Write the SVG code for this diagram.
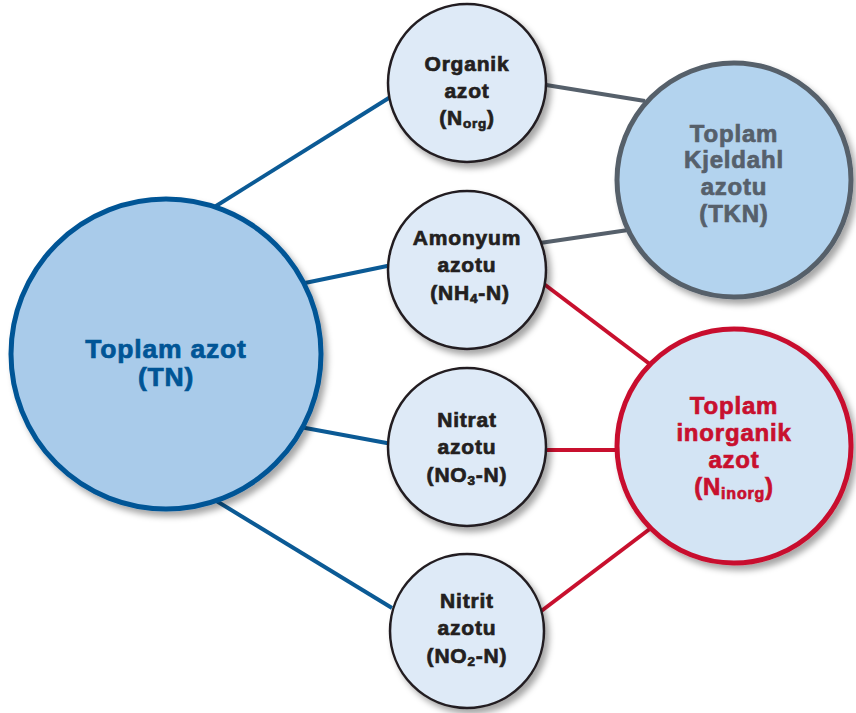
<svg xmlns="http://www.w3.org/2000/svg" width="856" height="713" viewBox="0 0 856 713">
<defs>
<filter id="sh" x="-20%" y="-20%" width="150%" height="150%">
<feDropShadow dx="4" dy="5" stdDeviation="3" flood-color="#000" flood-opacity="0.35"/>
</filter>
</defs>
<style>
text{font-family:"Liberation Sans",Arial,sans-serif;font-weight:bold;text-anchor:middle;letter-spacing:0.8px;stroke-width:0.7px}
.s{fill:#deeaf7;stroke:#231f20;stroke-width:2.5}
.st{font-size:21px;fill:#231f20;stroke:#231f20}
.sub{font-size:13.5px}
.tn{font-size:26.5px;fill:#005596;stroke:#005596}
.tk{font-size:24px;fill:#56606b;stroke:#56606b}
.ti{font-size:24px;fill:#c8102e;stroke:#c8102e}
.blue{stroke:#0b5a95;stroke-width:4;fill:none}
.gray{stroke:#56606b;stroke-width:4;fill:none}
.red{stroke:#c8102e;stroke-width:4;fill:none}
</style>
<rect width="856" height="713" fill="#fff"/>
<g id="connectors">
<line class="blue" x1="200" y1="216" x2="392" y2="96"/>
<line class="blue" x1="300" y1="284" x2="392" y2="265"/>
<line class="blue" x1="300" y1="427" x2="392" y2="444"/>
<line class="blue" x1="205" y1="494" x2="392" y2="608"/>
<line class="gray" x1="540" y1="84" x2="645" y2="101"/>
<line class="gray" x1="540" y1="243" x2="635" y2="229"/>
<line class="red" x1="540" y1="281" x2="655" y2="368"/>
<line class="red" x1="540" y1="450" x2="620" y2="450"/>
<line class="red" x1="540" y1="612" x2="655" y2="525"/>
</g>
<g id="tn">
<circle cx="166" cy="354" r="155" fill="#a9cbea" stroke="#005596" stroke-width="5" filter="url(#sh)"/>
<text class="tn" x="166" y="358">Toplam azot</text>
<text class="tn" x="166" y="386">(TN)</text>
</g>
<g id="norg">
<circle class="s" cx="467" cy="83" r="79" filter="url(#sh)"/>
<text class="st" x="467" y="71">Organik</text>
<text class="st" x="467" y="98">azot</text>
<text class="st" x="467" y="125">(N<tspan class="sub" dy="3">org</tspan><tspan dy="-3">)</tspan></text>
</g>
<g id="nh4">
<circle class="s" cx="467" cy="270" r="79" filter="url(#sh)"/>
<text class="st" x="467" y="245">Amonyum</text>
<text class="st" x="467" y="272">azotu</text>
<text class="st" x="470" y="300">(NH<tspan class="sub" dy="3">4</tspan><tspan dy="-3">-N)</tspan></text>
</g>
<g id="no3">
<circle class="s" cx="467" cy="447" r="79" filter="url(#sh)"/>
<text class="st" x="467" y="427">Nitrat</text>
<text class="st" x="467" y="454">azotu</text>
<text class="st" x="467" y="482">(NO<tspan class="sub" dy="3">3</tspan><tspan dy="-3">-N)</tspan></text>
</g>
<g id="no2">
<circle class="s" cx="467" cy="631" r="77" filter="url(#sh)"/>
<text class="st" x="467" y="608">Nitrit</text>
<text class="st" x="467" y="635">azotu</text>
<text class="st" x="467" y="663">(NO<tspan class="sub" dy="3">2</tspan><tspan dy="-3">-N)</tspan></text>
</g>
<g id="tkn">
<circle cx="734" cy="180" r="117" fill="#b3d3ee" stroke="#56606b" stroke-width="5" filter="url(#sh)"/>
<text class="tk" x="734" y="142">Toplam</text>
<text class="tk" x="734" y="168">Kjeldahl</text>
<text class="tk" x="734" y="195">azotu</text>
<text class="tk" x="734" y="222">(TKN)</text>
</g>
<g id="ninorg">
<circle cx="734" cy="446" r="117" fill="#d3e4f4" stroke="#c8102e" stroke-width="5" filter="url(#sh)"/>
<text class="ti" x="734" y="414">Toplam</text>
<text class="ti" x="734" y="441">inorganik</text>
<text class="ti" x="734" y="468">azot</text>
<text class="ti" x="734" y="495">(N<tspan font-size="16" dy="4">inorg</tspan><tspan dy="-4">)</tspan></text>
</g>
</svg>
